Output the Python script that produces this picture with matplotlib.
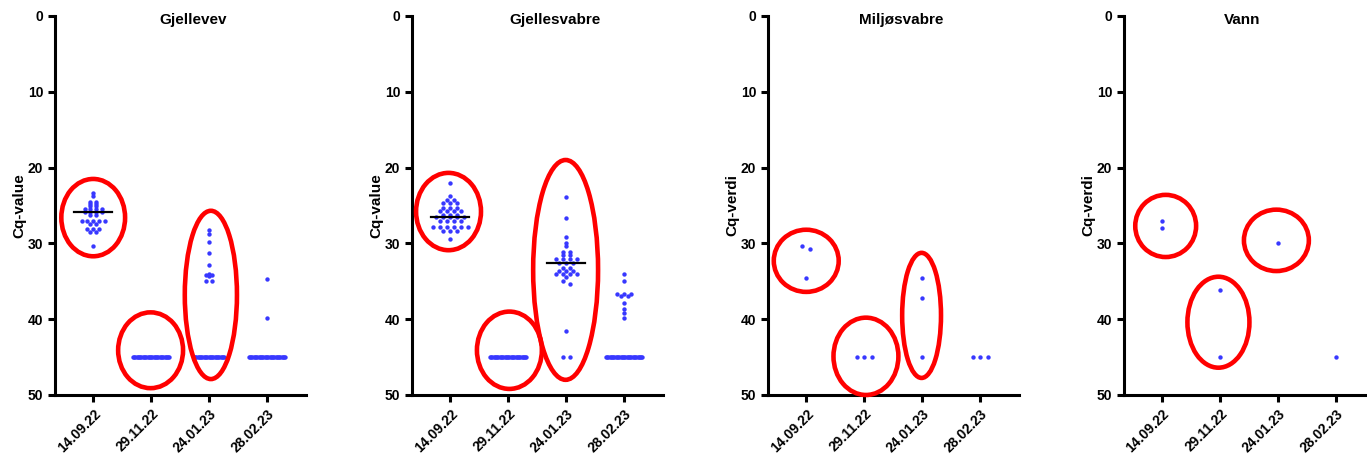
import numpy as np
import matplotlib
matplotlib.use('Agg')
import matplotlib.pyplot as plt
from matplotlib.patches import Ellipse

plt.rcParams['font.family'] = ['Liberation Sans', 'DejaVu Sans']
plt.rcParams['font.weight'] = 'bold'

dates = ['14.09.22', '29.11.22', '24.01.23', '28.02.23']
titles = ['Gjellevev', 'Gjellesvabre', 'Miljøsvabre', 'Vann']
ylabels = ['Cq-value', 'Cq-value', 'Cq-verdi', 'Cq-verdi']

# Cq values per sampling date (45 = not detected)
gjellevev = [
    [23.4, 23.8, 24.5, 24.5, 24.8, 24.8, 25.1, 25.1, 25.4, 25.4, 25.4, 25.4, 25.9, 25.9, 25.9, 25.9,
     26.2, 26.2, 27.0, 27.0, 27.0, 27.0, 27.0, 27.4, 27.4, 28.1, 28.1, 28.1, 28.5, 28.5, 30.3],
    [45] * 31,
    [28.3, 28.8, 29.8, 31.3, 32.8, 34.1, 34.2, 34.2, 34.3, 35.0, 35.0] + [45] * 26,
    [34.7, 39.9] + [45] * 31,
]
gjellesvabre = [
    [22.1, 23.7, 24.3, 24.3, 24.7, 24.7, 24.7, 25.3, 25.3, 25.3, 25.7, 25.7, 25.7, 25.7,
     26.2, 26.2, 26.2, 26.5, 26.5, 26.5, 26.5, 26.5, 27.0, 27.0, 27.0, 27.0,
     27.9, 27.9, 27.9, 27.9, 27.9, 27.9, 28.4, 28.4, 28.4, 29.4],
    [45] * 31,
    [23.9, 26.7, 29.2, 30.0, 30.4, 31.1, 31.1, 31.5, 31.5, 32.0, 32.0, 32.0, 32.0, 32.6, 32.6, 32.6,
     33.2, 33.2, 33.7, 33.7, 33.7, 34.1, 34.1, 34.1, 34.1, 34.4, 35.0, 35.3, 41.6, 45, 45],
    [34.1, 34.9, 36.7, 36.7, 36.7, 37.0, 37.0, 37.9, 38.6, 39.2, 39.8] + [45] * 31,
]
miljosvabre = [
    [30.4, 30.7, 34.6],
    [45, 45, 45],
    [34.6, 37.2, 45],
    [45, 45, 45],
]
vann = [
    [27.0, 28.0],
    [36.2, 45],
    [29.9],
    [45],
]
panels = [gjellevev, gjellesvabre, miljosvabre, vann]

# groups that get a median line
median_groups = [[0], [0, 2], [], []]

# red circles drawn on top: (x, y, width, height)
ellipses = [
    [(0.0, 26.6, 1.10, 10.2), (0.99, 44.1, 1.12, 10.0), (2.03, 36.8, 0.90, 22.2)],
    [(-0.03, 25.8, 1.12, 10.2), (1.02, 44.1, 1.12, 10.2), (1.99, 33.5, 1.12, 29.0)],
    [(0.0, 32.3, 1.12, 8.2), (1.03, 44.9, 1.12, 10.2), (1.99, 39.5, 0.67, 16.5)],
    [(0.06, 27.7, 1.05, 8.2), (0.97, 40.4, 1.07, 12.0), (1.97, 29.6, 1.12, 8.1)],
]
title_x = [0.55, 0.57, 0.53, 0.47]
row_step = [0.1, 0.12, 0.13, 0.13]


def row_offsets(vals, step, dense_step=0.021, near=0.35):
    # equal values share a row and are spread sideways;
    # two lone points that nearly touch are pushed apart
    vals = np.asarray(vals, dtype=float)
    xs = np.zeros(len(vals))
    rows = [np.where(vals == v)[0] for v in np.unique(vals)]
    merged = []
    for idx in rows:
        if (merged and len(idx) == 1 and len(merged[-1]) == 1
                and vals[idx[0]] - vals[merged[-1][0]] <= near):
            merged[-1] = np.concatenate([merged[-1], idx])
        else:
            merged.append(idx)
    for idx in merged:
        n = len(idx)
        s = step if n <= 7 else dense_step
        xs[idx] = (np.arange(n) - (n - 1) / 2) * s
    return xs


fig = plt.figure(figsize=(13.67, 4.58), dpi=100)
lefts = [0.0402, 0.3014, 0.5618, 0.8222]

for p, groups in enumerate(panels):
    ax = fig.add_axes([lefts[p], 0.1376, 0.1836, 0.8275])
    for g, vals in enumerate(groups):
        xs = g + row_offsets(vals, row_step[p])
        ax.scatter(xs, vals, s=10, color='#3838ff', linewidths=0, zorder=3, clip_on=False)
        if g in median_groups[p]:
            m = np.median(vals)
            ax.plot([g - 0.33, g + 0.33], [m, m], color='black', lw=1.6, zorder=4)
    for (cx, cy, w, h) in ellipses[p]:
        ax.add_patch(Ellipse((cx, cy), w, h, fill=False, edgecolor='#ff0000', lw=3.3,
                             zorder=5, clip_on=False))
    ax.set_xlim(-0.66, 3.67)
    ax.set_ylim(50, 0)
    ax.set_yticks([0, 10, 20, 30, 40, 50])
    ax.set_xticks(range(len(dates)))
    ax.set_xticklabels(dates, rotation=45, ha='right', rotation_mode='anchor',
                       fontsize=10, fontweight='bold')
    for lab in ax.get_yticklabels():
        lab.set_fontweight('bold')
        lab.set_fontsize(10)
    ax.set_ylabel(ylabels[p], fontsize=11, fontweight='bold', labelpad=1)
    ax.text(title_x[p], 0.99, titles[p], transform=ax.transAxes, ha='center', va='center',
            fontsize=11, fontweight='bold')
    ax.spines['top'].set_visible(False)
    ax.spines['right'].set_visible(False)
    ax.spines['left'].set_linewidth(2.2)
    ax.spines['bottom'].set_linewidth(2.2)
    ax.tick_params(width=2.2, length=5)

plt.savefig('out.png', dpi=100)
